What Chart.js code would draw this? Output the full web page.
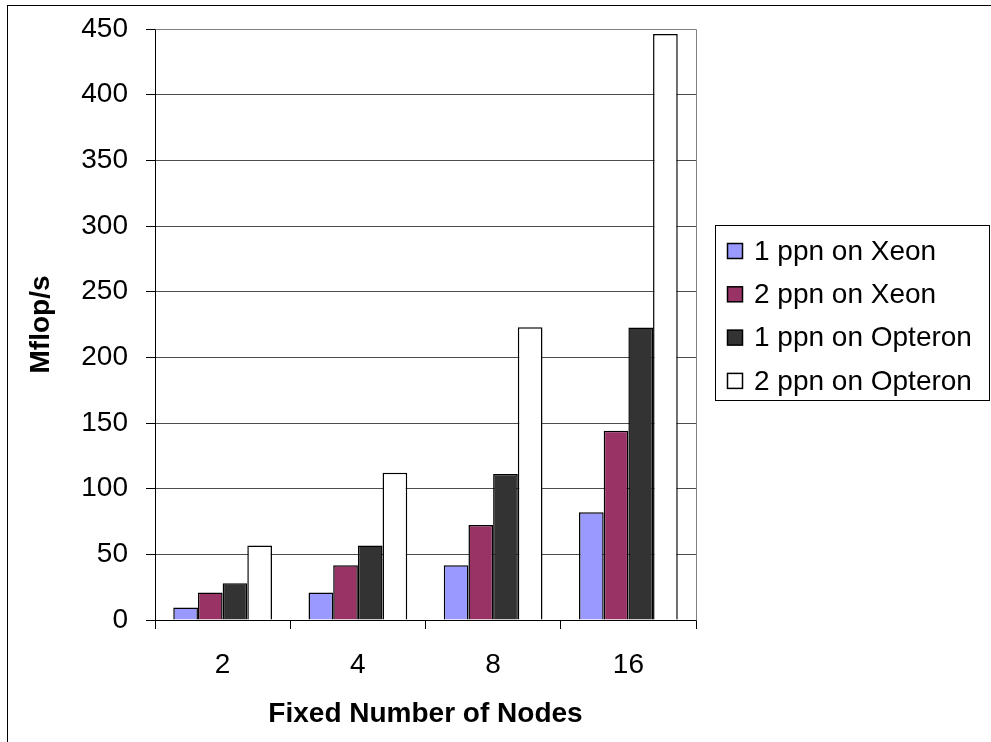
<!DOCTYPE html>
<html>
<head>
<meta charset="utf-8">
<script src="https://cdn.jsdelivr.net/npm/chart.js@4"></script>
<style>
  html, body { margin: 0; padding: 0; background: #fff; }
  #wrap { width: 991px; height: 742px; position: relative; }
</style>
</head>
<body>
<div id="wrap"><canvas id="c"></canvas></div>
<script>
// Mflop/s measured for a fixed number of nodes
const nodeCounts = ['2', '4', '8', '16'];
const xeon1ppn = [9.6, 21, 41.6, 82];
const xeon2ppn = [21, 41.6, 72.3, 144.1];
const opteron1ppn = [27.9, 56.8, 111.1, 222.7];
const opteron2ppn = [56.8, 112.1, 223, 446.2];
const seriesNames = ['1 ppn on Xeon', '2 ppn on Xeon', '1 ppn on Opteron', '2 ppn on Opteron'];
const seriesColors = ['#9999FF', '#993366', '#333333', '#FFFFFF'];
const yMin = 0, yMax = 450, yStep = 50;

const FONT = 'Arial, "Liberation Sans", sans-serif';
const FONT_SIZE = 28;

// outer frame, plot-area border and the boxed legend on the right
const decor = {
  id: 'decor',
  beforeDatasetsDraw(chart) {
    const {ctx, chartArea: a} = chart;
    ctx.save();
    ctx.strokeStyle = '#808080';
    ctx.lineWidth = 1;
    ctx.beginPath();
    ctx.moveTo(Math.round(a.left) + 0.5, Math.round(a.top) + 0.5);
    ctx.lineTo(Math.round(a.right) + 0.5, Math.round(a.top) + 0.5);
    ctx.lineTo(Math.round(a.right) + 0.5, Math.round(a.bottom) + 0.5);
    ctx.stroke();
    ctx.restore();
  },
  afterDraw(chart) {
    const {ctx} = chart;
    ctx.save();
    ctx.strokeStyle = '#000';
    ctx.lineWidth = 1;
    ctx.strokeRect(7.5, 5.5, 1200, 1000);

    // legend
    const lx = 715.5, ly = 225.5, lw = 274, lh = 175;
    ctx.fillStyle = '#fff';
    ctx.fillRect(lx, ly, lw, lh);
    ctx.strokeRect(lx, ly, lw, lh);
    ctx.font = FONT_SIZE + 'px ' + FONT;
    ctx.textBaseline = 'middle';
    ctx.textAlign = 'left';
    chart.data.datasets.forEach((ds, i) => {
      const cy = 251 + i * 43.3;
      ctx.fillStyle = ds.backgroundColor;
      ctx.fillRect(727.5, cy - 7.5, 15, 15);
      ctx.lineWidth = 1.5;
      ctx.strokeStyle = '#000';
      ctx.strokeRect(727.5, cy - 7.5, 15, 15);
      ctx.fillStyle = '#000';
      ctx.fillText(ds.label, 754, cy + 1);
    });
    ctx.restore();
  }
};

const datasets = [xeon1ppn, xeon2ppn, opteron1ppn, opteron2ppn].map((vals, i) => ({
  label: seriesNames[i],
  data: vals,
  backgroundColor: seriesColors[i],
  borderColor: '#000',
  borderWidth: 1.5,
  borderSkipped: 'bottom'
}));

new Chart(document.getElementById('c'), {
  type: 'bar',
  data: { labels: nodeCounts, datasets },
  plugins: [decor],
  options: {
    responsive: true,
    maintainAspectRatio: false,
    animation: false,
    devicePixelRatio: 1,
    layout: { padding: { left: 0, top: 29, right: 295, bottom: 0 } },
    datasets: { bar: { categoryPercentage: 0.73, barPercentage: 1 } },
    plugins: { legend: { display: false }, tooltip: { enabled: false } },
    scales: {
      x: {
        type: 'category',
        offset: true,
        afterFit(s) { s.height = 122; s.paddingLeft = 0; s.paddingRight = 0; },
        grid: {
          offset: true,
          drawOnChartArea: false,
          drawTicks: true,
          tickLength: 9,
          color: '#000',
          tickColor: '#000'
        },
        border: { color: '#000', width: 1 },
        ticks: { color: '#000', font: { family: FONT, size: FONT_SIZE }, padding: 19 },
        title: {
          display: true,
          text: 'Fixed Number of Nodes',
          color: '#000',
          font: { family: FONT, size: FONT_SIZE, weight: 'bold' },
          padding: { top: 0, bottom: 11 }
        }
      },
      y: {
        min: yMin,
        max: yMax,
        afterFit(s) { s.width = 155; s.paddingTop = 0; s.paddingBottom = 0; },
        grid: {
          color: '#4d4d4d',
          lineWidth: 1,
          drawTicks: true,
          tickLength: 9,
          tickColor: '#000'
        },
        border: { color: '#000', width: 1 },
        ticks: {
          stepSize: yStep,
          color: '#000',
          font: { family: FONT, size: FONT_SIZE },
          padding: 18
        },
        title: {
          display: true,
          text: 'Mflop/s',
          color: '#000',
          font: { family: FONT, size: FONT_SIZE, weight: 'bold' },
          padding: { top: 24, bottom: 0 }
        }
      }
    }
  }
});
</script>
</body>
</html>
